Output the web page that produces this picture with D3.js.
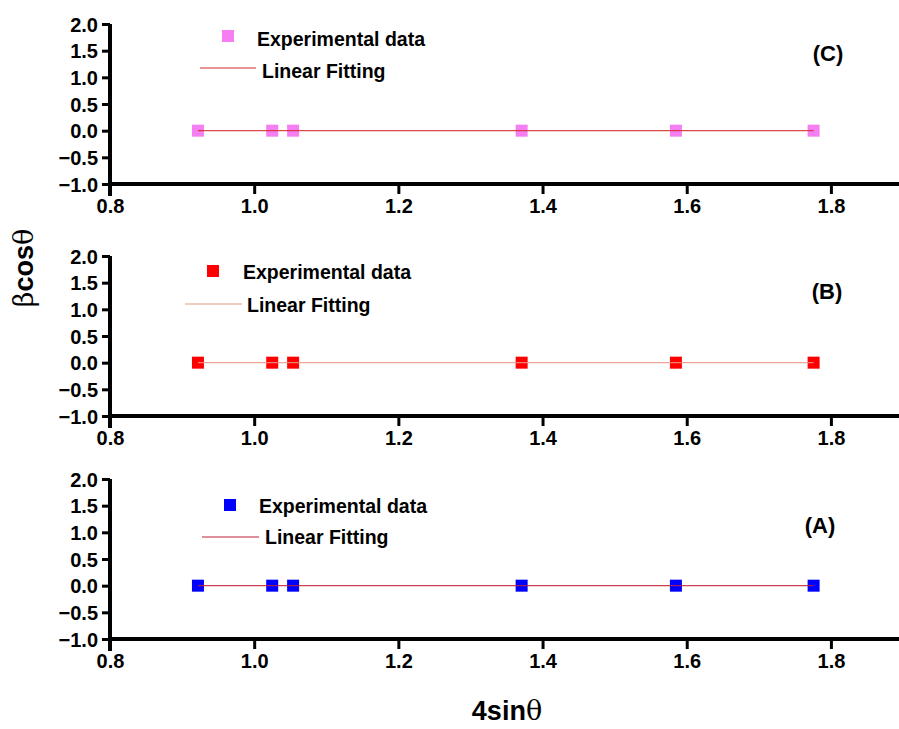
<!DOCTYPE html>
<html>
<head>
<meta charset="utf-8">
<script src="https://cdn.jsdelivr.net/npm/d3@7"></script>
<style>
  body { margin: 0; background: #fff; }
  svg { display: block; }
  .tick text { font-family: "Liberation Sans", Arial, sans-serif; font-weight: bold; font-size: 20px; fill: #000; }
</style>
</head>
<body>
<svg id="chart" width="899" height="729"></svg>
<script>
// x positions (4 sin θ) of the measured reflections, shared by all samples
const xValues = [0.922, 1.025, 1.054, 1.371, 1.585, 1.776];
// β cos θ for each sample
const yC = [0, 0, 0, 0, 0, 0];
const yB = [0, 0, 0, 0, 0, 0];
const yA = [0, 0, 0, 0, 0, 0];
// fitted line end points (slope 0, intercept 0)
const fitC = [0, 0];
const fitB = [0, 0];
const fitA = [0, 0];
const xTicks = [0.8, 1.0, 1.2, 1.4, 1.6, 1.8];
const yTicks = [-1.0, -0.5, 0.0, 0.5, 1.0, 1.5, 2.0];
const panelLabels = ["(C)", "(B)", "(A)"];
const legendLabels = ["Experimental data", "Linear Fitting"];

const panels = [
  { label: panelLabels[0], ys: yC, fit: fitC, top: 24, color: "#f57ff2", fitColor: "#d42a2a",
    leg: { mx: 228, my: 36, tx: 257, ty: 46, lx0: 200, lx1: 256, ly: 68, ltx: 262, lty: 78 },
    tag: { x: 828, y: 61 } },
  { label: panelLabels[1], ys: yB, fit: fitB, top: 256, color: "#ff0000", fitColor: "#e99585",
    leg: { mx: 213, my: 271, tx: 243, ty: 279, lx0: 185, lx1: 242, ly: 304, ltx: 247, lty: 312 },
    tag: { x: 827, y: 299 } },
  { label: panelLabels[2], ys: yA, fit: fitA, top: 479, color: "#0000ff", fitColor: "#c0203a",
    leg: { mx: 230, my: 505, tx: 259, ty: 513, lx0: 202, lx1: 259, ly: 537, ltx: 265, lty: 544 },
    tag: { x: 820, y: 533 } }
];

const svg = d3.select("#chart");
const x = d3.scaleLinear().domain([0.8, 1.9]).range([110, 903]);
const panelH = 160;
const font = '"Liberation Sans", Arial, sans-serif';

panels.forEach(p => {
  const y = d3.scaleLinear().domain([-1, 2]).range([p.top + panelH, p.top]);
  const g = svg.append("g");

  // x axis
  const xa = g.append("g")
    .attr("transform", `translate(0,${p.top + panelH})`)
    .call(d3.axisBottom(x).tickValues(xTicks).tickFormat(d3.format(".1f")).tickSize(10).tickPadding(5));
  xa.select(".domain").attr("stroke", "#000").attr("stroke-width", 4).attr("d", `M110,0H899`);
  xa.selectAll(".tick line").attr("stroke", "#000").attr("stroke-width", 3);

  // y axis
  const ya = g.append("g")
    .attr("transform", "translate(110,0)")
    .call(d3.axisLeft(y).tickValues(yTicks).tickFormat(d3.format(".1f")).tickSize(8).tickPadding(4));
  ya.select(".domain").attr("stroke", "#000").attr("stroke-width", 4)
    .attr("d", `M0,${p.top}V${p.top + panelH + 12}`);
  ya.selectAll(".tick line").attr("stroke", "#000").attr("stroke-width", 3);
  ya.selectAll(".tick text").attr("dy", "0.36em");

  const xr = d3.extent(xValues);
  const fitLine = d3.line().x(d => x(d[0])).y(d => y(d[1]));

  // data points
  const s = 12;
  g.selectAll("rect.pt").data(xValues.map((v, i) => [v, p.ys[i]]))
    .join("rect").attr("class", "pt")
    .attr("x", d => x(d[0]) - s / 2).attr("y", d => y(d[1]) - s / 2)
    .attr("width", s).attr("height", s).attr("fill", p.color);

  // fitted line across the data range, drawn over the markers
  g.append("path")
    .datum([[xr[0], p.fit[0]], [xr[1], p.fit[1]]])
    .attr("d", fitLine)
    .attr("stroke", p.fitColor).attr("stroke-width", 1.3).attr("fill", "none").attr("opacity", 0.85);

  // legend
  const L = p.leg;
  g.append("rect").attr("x", L.mx - 6).attr("y", L.my - 6).attr("width", 12).attr("height", 12).attr("fill", p.color);
  g.append("text").attr("x", L.tx).attr("y", L.ty).text(legendLabels[0])
    .attr("font-family", font).attr("font-weight", "bold").attr("font-size", 19.5);
  g.append("line").attr("x1", L.lx0).attr("x2", L.lx1).attr("y1", L.ly).attr("y2", L.ly)
    .attr("stroke", p.fitColor).attr("stroke-width", 1.2);
  g.append("text").attr("x", L.ltx).attr("y", L.lty).text(legendLabels[1])
    .attr("font-family", font).attr("font-weight", "bold").attr("font-size", 19.5);

  // panel tag
  g.append("text").attr("x", p.tag.x).attr("y", p.tag.y).attr("text-anchor", "middle")
    .text(p.label).attr("font-family", font).attr("font-weight", "bold").attr("font-size", 22);
});

// axis titles
const yt = svg.append("text")
  .attr("transform", "translate(33,268) rotate(-90)")
  .attr("text-anchor", "middle")
  .attr("font-family", font).attr("font-weight", "bold").attr("font-size", 27);
yt.append("tspan").attr("font-family", '"DejaVu Serif", serif').attr("font-weight", "normal").text("β");
yt.append("tspan").text("cos");
yt.append("tspan").attr("font-family", '"DejaVu Serif", serif').attr("font-weight", "normal").text("θ");

const xt = svg.append("text")
  .attr("x", 507).attr("y", 720)
  .attr("text-anchor", "middle")
  .attr("font-family", font).attr("font-weight", "bold").attr("font-size", 27);
xt.append("tspan").text("4sin");
xt.append("tspan").attr("font-family", '"DejaVu Serif", serif').attr("font-weight", "normal").text("θ");
</script>
</body>
</html>
